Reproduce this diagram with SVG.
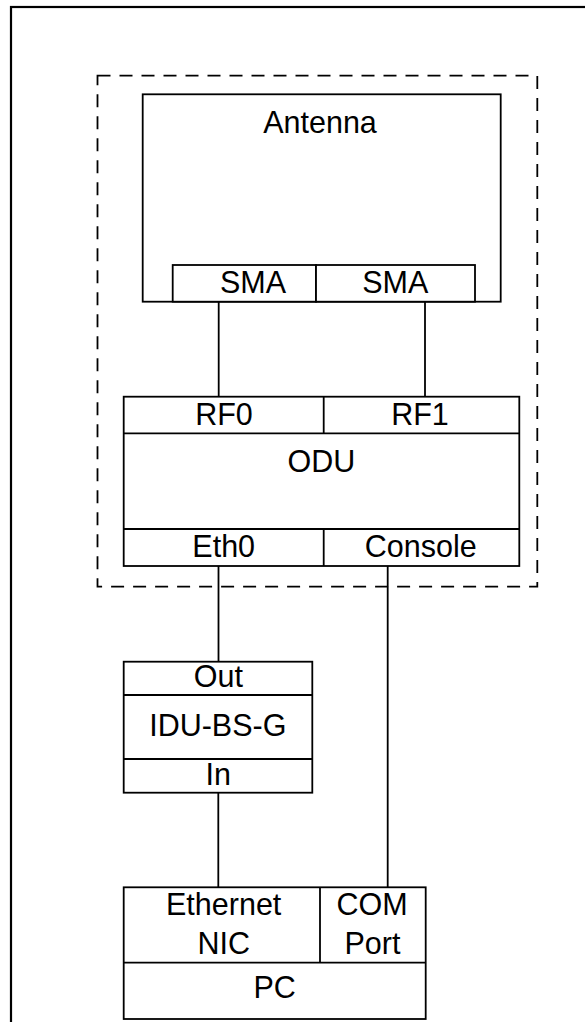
<svg xmlns="http://www.w3.org/2000/svg" width="585" height="1022" viewBox="0 0 585 1022">
<style>
.box{fill:#fff;stroke:#000;stroke-width:1.8}
.ln{fill:none;stroke:#000;stroke-width:1.8}
.dash{fill:none;stroke:#000;stroke-width:1.8;stroke-dasharray:13 9}
text{font-family:"Liberation Sans",Arial,sans-serif;font-size:30.5px;fill:#000;text-anchor:middle}
</style>
<rect x="0" y="0" width="585" height="1022" fill="#fff"/>
<rect id="frame" x="11" y="7" width="600" height="1040" fill="none" stroke="#000" stroke-width="2.2"/>
<rect id="outdoor" class="dash" x="97.5" y="75.7" width="439.8" height="511"/>
<g id="connectors">
<line class="ln" x1="218.7" y1="301.7" x2="218.7" y2="396.7"/>
<line class="ln" x1="425" y1="301.7" x2="425" y2="396.7"/>
<line class="ln" x1="218.5" y1="566" x2="218.5" y2="661.7"/>
<line class="ln" x1="387.7" y1="566" x2="387.7" y2="887.3"/>
<line class="ln" x1="218.3" y1="792.7" x2="218.3" y2="887.3"/>
</g>
<g id="antenna">
<rect class="box" x="142.7" y="94.3" width="358" height="207.4"/>
<text x="320" y="133">Antenna</text>
<rect class="box" x="172.7" y="265" width="143.3" height="36.7"/>
<rect class="box" x="316" y="265" width="159" height="36.7"/>
<text x="253" y="293.3">SMA</text>
<text x="395.3" y="293.3">SMA</text>
</g>
<g id="odu">
<rect class="box" x="123.7" y="396.7" width="395.6" height="169.3"/>
<line class="ln" x1="123.7" y1="433.3" x2="519.3" y2="433.3"/>
<line class="ln" x1="323.7" y1="396.7" x2="323.7" y2="433.3"/>
<line class="ln" x1="123.7" y1="529" x2="519.3" y2="529"/>
<line class="ln" x1="323.7" y1="529" x2="323.7" y2="566"/>
<text x="224" y="425">RF0</text>
<text x="420" y="425">RF1</text>
<text x="321.3" y="471.7">ODU</text>
<text x="223.7" y="556.7">Eth0</text>
<text x="420.8" y="556.7">Console</text>
</g>
<g id="idu">
<rect class="box" x="123.7" y="661.7" width="188.6" height="131"/>
<line class="ln" x1="123.7" y1="695" x2="312.3" y2="695"/>
<line class="ln" x1="123.7" y1="759" x2="312.3" y2="759"/>
<text x="218.3" y="686.7">Out</text>
<text x="217.8" y="735.7">IDU-BS-G</text>
<text x="218.3" y="785">In</text>
</g>
<g id="pc">
<rect class="box" x="123.7" y="887.3" width="302" height="131.7"/>
<line class="ln" x1="320" y1="887.3" x2="320" y2="962.7"/>
<line class="ln" x1="123.7" y1="962.7" x2="425.7" y2="962.7"/>
<text x="223.7" y="915">Ethernet</text>
<text x="223.7" y="954">NIC</text>
<text x="372" y="915">COM</text>
<text x="372.5" y="954">Port</text>
<text x="274.7" y="998.3">PC</text>
</g>
</svg>
